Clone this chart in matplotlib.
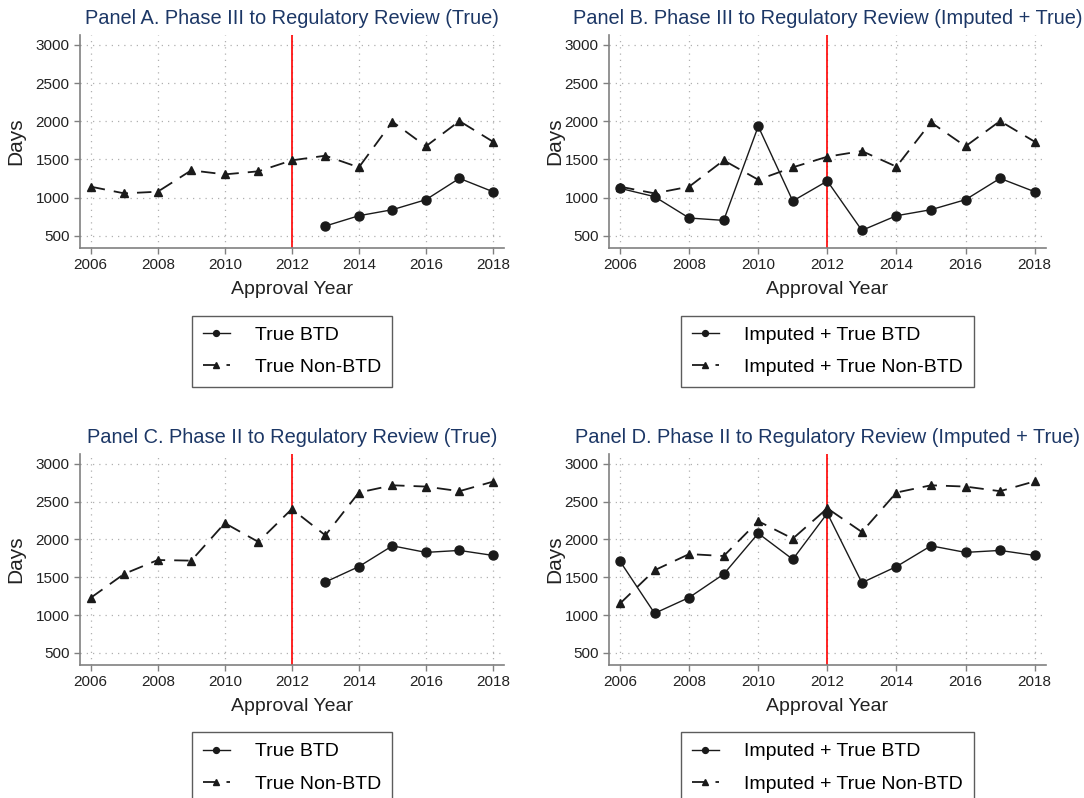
import numpy as np
import matplotlib
matplotlib.use("Agg")
import matplotlib.pyplot as plt

plt.rcParams['font.family'] = ['Liberation Sans', 'DejaVu Sans']

# approval years on the x axis
years = np.arange(2006, 2019)
years_true = np.arange(2013, 2019)

# Panel A: Phase III -> regulatory review, true dates only
a_btd = [627, 762, 841, 972, 1252, 1077]
a_nonbtd = [1143, 1055, 1077, 1357, 1304, 1344, 1488, 1549, 1396, 1995, 1672, 2003, 1733]

# Panel B: Phase III -> regulatory review, imputed + true
b_btd = [1121, 1012, 732, 701, 1934, 955, 1217, 570, 762, 841, 972, 1252, 1077]
b_nonbtd = [1143, 1055, 1143, 1488, 1234, 1396, 1536, 1610, 1405, 1986, 1672, 2003, 1733]

# Panel C: Phase II -> regulatory review, true dates only
c_btd = [1437, 1641, 1916, 1829, 1855, 1789]
c_nonbtd = [1228, 1545, 1728, 1720, 2216, 1968, 2403, 2055, 2621, 2717, 2700, 2639, 2765]

# Panel D: Phase II -> regulatory review, imputed + true
d_btd = [1711, 1023, 1232, 1541, 2081, 1737, 2347, 1428, 1641, 1916, 1829, 1855, 1789]
d_nonbtd = [1153, 1593, 1807, 1781, 2242, 2011, 2412, 2099, 2621, 2717, 2700, 2639, 2769]

titles = ["Panel A. Phase III to Regulatory Review (True)",
          "Panel B. Phase III to Regulatory Review (Imputed + True)",
          "Panel C. Phase II to Regulatory Review (True)",
          "Panel D. Phase II to Regulatory Review (Imputed + True)"]
labels_true = ["True BTD", "True Non-BTD"]
labels_imp = ["Imputed + True BTD", "Imputed + True Non-BTD"]

W, H = 1084, 798
fig = plt.figure(figsize=(W / 100, H / 100), dpi=100)

# axes boxes in pixels: left, top, right, bottom
boxes = [(80, 35, 504, 248), (609, 35, 1046, 248),
         (80, 454, 504, 665), (609, 454, 1046, 665)]

panels = [(years_true, a_btd, years, a_nonbtd, labels_true, -0.128),
          (years, b_btd, years, b_nonbtd, labels_imp, -0.102),
          (years_true, c_btd, years, c_nonbtd, labels_true, -0.128),
          (years, d_btd, years, d_nonbtd, labels_imp, -0.102)]

title_col = '#1c3766'
spine_col = '#808080'
ink = '#1a1a1a'

for i, (l, t, r, b) in enumerate(boxes):
    ax = fig.add_axes([l / W, 1 - b / H, (r - l) / W, (b - t) / H])
    xb, yb, xn, yn, labs, ylx = panels[i]

    ax.axvline(2012, color='red', lw=1.2, zorder=1)
    ax.plot(xb, yb, color=ink, lw=1.0, marker='o', ms=6.5, label=labs[0], zorder=3)
    ax.plot(xn, yn, color=ink, lw=1.3, ls=(0, (8, 5)), marker='^', ms=6,
            label=labs[1], zorder=3)

    ax.set_xlim(2005.68, 2018.33)
    ax.set_ylim(339, 3131)
    ax.set_xticks(np.arange(2006, 2019, 2))
    ax.set_yticks(np.arange(500, 3001, 500))
    ax.grid(True, color='#b0b0b0', lw=0.9, ls=(0, (1, 4)))
    ax.set_axisbelow(True)

    for s in ['top', 'right']:
        ax.spines[s].set_visible(False)
    for s in ['left', 'bottom']:
        ax.spines[s].set_color(spine_col)
        ax.spines[s].set_linewidth(1.2)
    ax.tick_params(colors=spine_col, labelcolor='#222222', labelsize=11,
                   length=4, width=1)

    ax.set_title(titles[i], color=title_col, fontsize=14.4, pad=8)
    ax.set_ylabel("Days", fontsize=15, color='#222222')
    ax.yaxis.set_label_coords(ylx, 0.5)
    ax.set_xlabel("Approval Year", fontsize=14, color='#222222', labelpad=6)

    leg = ax.legend(loc='upper center', bbox_to_anchor=(0.5, -0.318), fontsize=14,
                    frameon=True, fancybox=False, edgecolor='#333333',
                    handlelength=1.4, handletextpad=1.3, borderpad=0.55,
                    labelspacing=0.75, borderaxespad=0, markerscale=0.65)
    leg.get_frame().set_linewidth(1.0)

fig.savefig("out.png", dpi=100)
